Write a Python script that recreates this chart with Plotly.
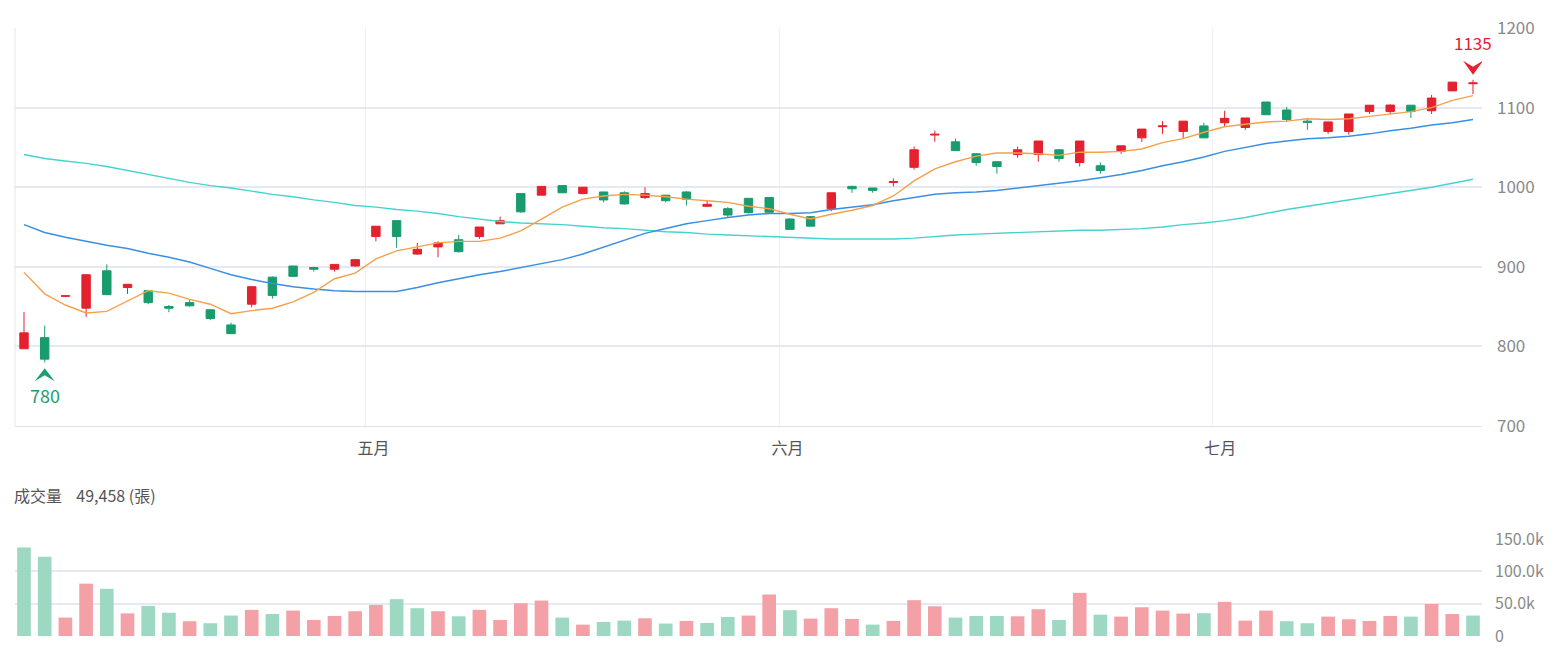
import plotly.graph_objects as go

# ---------------- data ----------------
day_index = list(range(71))
month_tick_pos = [16.5, 36.5, 57.4]
month_labels = ["五月", "六月", "七月"]

opens = [797, 811, 863, 848, 895, 874, 870, 850, 855, 846,
         827, 853, 887, 901, 899, 897, 901, 938, 958, 916,
         925, 934, 938, 954, 992, 990, 1002, 992, 994, 993,
         987, 990, 994, 976, 973, 986, 987, 960, 963, 973,
         1001, 999, 1006, 1025, 1065.5, 1057, 1042, 1032, 1041, 1041,
         1047, 1031, 1027, 1045, 1062, 1076, 1070, 1077, 1081, 1075,
         1107, 1097, 1083, 1070, 1070, 1095, 1095, 1103, 1096, 1121,
         1130]
highs = [843, 826, 864, 891, 903, 878, 871, 852, 859, 847,
         830, 875, 888, 901, 900, 903, 910, 951, 958, 930,
         932, 940, 950, 963, 992, 1001, 1002, 1000, 994, 995,
         1000, 990, 995, 984, 975, 986, 987, 961, 963, 993,
         1002, 999, 1011, 1051, 1071, 1061, 1043, 1032, 1051, 1058,
         1048, 1058, 1031, 1052, 1073, 1083, 1083, 1081, 1096, 1087,
         1107, 1101, 1087, 1082, 1092, 1103, 1104, 1103, 1116, 1132,
         1135]
lows = [797, 780, 862, 837, 865, 866, 853, 843, 850, 833,
        816, 849, 860, 887, 894, 894, 900, 932, 924, 915,
        912, 918, 935, 954, 968, 990, 993, 991, 981, 978,
        985, 981, 977, 976, 962, 967, 967, 947, 951, 970,
        993, 993, 1001, 1022, 1057, 1046, 1027, 1017, 1037, 1032,
        1032, 1026, 1017, 1042, 1057, 1067, 1061, 1062, 1076, 1072,
        1091, 1082, 1072, 1067, 1066, 1092, 1092, 1087, 1092, 1121,
        1117]
closes = [817, 784, 863.5, 890, 865, 878, 855, 848, 851, 835,
          816, 875, 864, 888, 897, 903, 909, 951, 938, 922,
          930, 919, 950, 958, 969, 1001, 993, 1000, 984, 979,
          992, 983, 985, 978.5, 965, 968, 968.5, 947, 951, 993,
          998, 996, 1007, 1047, 1066.5, 1046, 1031, 1026, 1047, 1058,
          1036, 1058, 1021, 1052, 1073, 1077, 1083, 1062, 1086.5, 1087,
          1091, 1085, 1081.5, 1082, 1092, 1103, 1103.2, 1095, 1112, 1132,
          1131]

ma5 = [893, 866, 852, 842, 844, 857, 870, 867, 859, 853,
       841, 845, 848, 856, 868, 885, 892, 910, 920, 925,
       930, 932, 932, 936, 945, 960, 975, 985, 989, 991,
       990, 988, 985, 983, 981, 976, 973, 966, 960, 966,
       971, 977, 989, 1008, 1023, 1032, 1039, 1043, 1043, 1042,
       1040, 1044, 1044, 1045, 1048, 1056, 1061, 1069, 1076, 1079,
       1082, 1083, 1086, 1085, 1086, 1089, 1092, 1095, 1100, 1109,
       1115]
ma20 = [953, 943, 937, 932, 927, 923, 917, 912, 906, 898,
        890, 884, 879, 875, 872, 870, 869, 869, 869, 874,
        880, 885, 890, 894, 899, 904, 909, 916, 925, 933,
        942, 948, 954, 958, 962, 965, 967, 967, 968, 972,
        975, 978, 983, 987, 991, 993, 994, 996, 999, 1002,
        1005, 1008, 1012, 1016, 1021, 1027, 1032, 1038, 1045, 1050,
        1055, 1058, 1061, 1062, 1064, 1067, 1071, 1074, 1078, 1081,
        1085]
ma60 = [1041, 1036, 1033, 1030, 1026, 1021, 1016, 1011, 1006, 1002,
        999, 995, 991, 988, 984, 981, 977, 975, 972, 970,
        967, 963, 960, 957, 955, 954, 953, 951, 949, 948,
        946, 944, 943, 941, 940, 939, 938, 937, 936, 935,
        935, 935, 935, 936, 938, 940, 941, 942, 943, 944,
        945, 946, 946, 947, 948, 950, 953, 955, 958, 962,
        967, 972, 976, 980, 984, 988, 992, 996, 1000, 1005,
        1010]

volumes = [137000, 122700, 28500, 81000, 73000, 35000, 46600, 36000, 22800, 19700,
           31600, 40400, 34000, 39300, 24800, 31000, 38300, 48000, 57000, 43000,
           38300, 30500, 40400, 24800, 50700, 54800, 28500, 17600, 21700, 23800,
           27400, 19200, 23300, 20200, 29500, 31600, 64200, 39900, 26900, 43000,
           26400, 17600, 23300, 55400, 46000, 28500, 31000, 31000, 30500, 41400,
           24800, 66800, 33000, 30000, 44500, 39300, 34700, 35200, 52800, 23800,
           39300, 22800, 19700, 30000, 25900, 23300, 31000, 30000, 49458, 34000,
           31600]
first_day_up = False  # first volume bar is drawn as a down day

vol_tickvals = [0, 50000, 100000, 150000]
vol_ticktext = ["0", "50.0k", "100.0k", "150.0k"]
vol_title = "成交量\u00a0\u00a0\u00a0\u00a049,458 (張)"

# ---------------- styles ----------------
RED = "#e4212e"
GREEN = "#189b6d"
LABEL_GREEN = "#1d9e6e"
VOL_RED = "#f3a1a6"
VOL_GREEN = "#9dd8c2"
GRID = "#e6e9f1"
FONT = "Noto Sans CJK TC, Noto Sans, sans-serif"

vol_colors = []
for i, c in enumerate(closes):
    up = first_day_up if i == 0 else c >= closes[i - 1]
    vol_colors.append(VOL_RED if up else VOL_GREEN)

fig = go.Figure()

fig.add_trace(go.Scatter(x=day_index, y=ma60, mode="lines",
                         line=dict(color="#45d3d0", width=1.4), hoverinfo="skip",
                         xaxis="x", yaxis="y"))
fig.add_trace(go.Scatter(x=day_index, y=ma20, mode="lines",
                         line=dict(color="#3a8fe3", width=1.5), hoverinfo="skip",
                         xaxis="x", yaxis="y"))
fig.add_trace(go.Scatter(x=day_index, y=ma5, mode="lines",
                         line=dict(color="#f5a04c", width=1.4), hoverinfo="skip",
                         xaxis="x", yaxis="y"))

fig.add_trace(go.Candlestick(
    x=day_index, open=opens, high=highs, low=lows, close=closes,
    increasing=dict(line=dict(color=RED, width=1), fillcolor=RED),
    decreasing=dict(line=dict(color=GREEN, width=1), fillcolor=GREEN),
    whiskerwidth=0, xaxis="x", yaxis="y"))

fig.add_trace(go.Bar(x=day_index, y=volumes, marker=dict(color=vol_colors, line=dict(width=0)),
                     width=0.66, xaxis="x2", yaxis="y2", hoverinfo="skip"))

# extreme markers: chevrons anchored to the highest high / lowest low (pixel-size shapes)
hi_idx = max(day_index, key=lambda i: highs[i])
lo_idx = min(day_index, key=lambda i: lows[i])
fig.add_shape(type="path", xref="x", yref="y",
              xsizemode="pixel", ysizemode="pixel",
              xanchor=hi_idx, yanchor=highs[hi_idx],
              path="M0,5 L-10,19 L0,13 L10,19 Z",
              fillcolor=RED, line=dict(width=0), layer="above")
fig.add_shape(type="path", xref="x", yref="y",
              xsizemode="pixel", ysizemode="pixel",
              xanchor=lo_idx, yanchor=lows[lo_idx],
              path="M0,-6 L-10,-19 L0,-13 L10,-19 Z",
              fillcolor=LABEL_GREEN, line=dict(width=0), layer="above")

fig.add_annotation(x=hi_idx, y=highs[hi_idx], xref="x", yref="y", text=f"{highs[hi_idx]:g}",
                   showarrow=False, yshift=37, font=dict(color=RED, size=17, family=FONT))
fig.add_annotation(x=lo_idx, y=lows[lo_idx], xref="x", yref="y", text=f"{lows[lo_idx]:g}",
                   showarrow=False, yshift=-33, font=dict(color=LABEL_GREEN, size=18, family=FONT))
fig.add_annotation(x=-0.002, y=0.232, xref="paper", yref="paper", text=vol_title,
                   showarrow=False, xanchor="left", yanchor="middle",
                   font=dict(color="#555555", size=16, family=FONT))

# left border of price pane
fig.add_shape(type="line", xref="paper", yref="y domain", x0=0, x1=0, y0=0, y1=1,
              line=dict(color="#e3e6ec", width=1))

fig.update_layout(
    width=1554, height=650,
    margin=dict(l=15, r=72, t=28, b=14, autoexpand=False),
    paper_bgcolor="white", plot_bgcolor="white",
    showlegend=False,
    boxgap=0.42,
    font=dict(family=FONT, color="#555555"),
    xaxis=dict(domain=[0, 1], anchor="y", range=[-0.435, 70.435], automargin=False,
               tickmode="array", tickvals=month_tick_pos, ticktext=month_labels,
               showgrid=True, gridcolor="#eef0f4", gridwidth=1,
               showline=True, linecolor="#dde1e8", linewidth=1,
               zeroline=False, ticks="", ticklabelshift=8, ticklabelstandoff=8,
               tickfont=dict(size=16, color="#555555", family=FONT),
               rangeslider=dict(visible=False)),
    yaxis=dict(domain=[0.3454, 1], anchor="x", side="right", range=[700, 1200],
               automargin=False,
               dtick=100, showgrid=True, gridcolor=GRID, gridwidth=1.5,
               zeroline=False, showline=False, ticks="", ticklabelstandoff=14,
               tickfont=dict(size=17, color="#8a8a8a", family=FONT)),
    xaxis2=dict(domain=[0, 1], anchor="y2", range=[-0.435, 70.435], automargin=False,
                showticklabels=False, showgrid=False, zeroline=False, showline=False,
                ticks=""),
    yaxis2=dict(domain=[0, 0.1595], anchor="x2", side="right", range=[0, 150000],
                automargin=False,
                tickmode="array", tickvals=vol_tickvals, ticktext=vol_ticktext,
                showgrid=True, gridcolor=GRID, gridwidth=1.5, zeroline=False,
                showline=False, ticks="", ticklabelstandoff=12,
                tickfont=dict(size=16, color="#8a8a8a", family=FONT)),
)

fig.write_html("out.html")
